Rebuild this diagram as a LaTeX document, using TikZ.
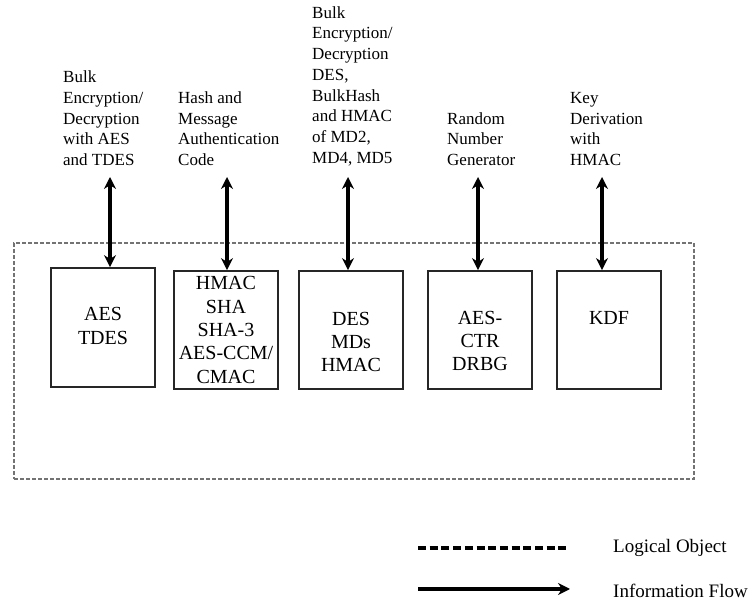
\documentclass[tikz,border=0pt]{standalone}
\usepackage{fontspec}
\setmainfont{Liberation Serif}
\usetikzlibrary{arrows.meta}

\tikzset{
  module/.style={rectangle,draw=black!55,line width=2.4pt,dash pattern=on 4pt off 2pt,
    minimum width=680pt,minimum height=236pt},
  unit/.style={rectangle,draw=black!85,line width=1.8pt,minimum width=104pt,minimum height=118pt},
  unittext/.style={align=center,inner sep=0pt,font=\fontsize{20}{23.3}\selectfont},
  service/.style={align=left,anchor=south west,inner sep=0pt,font=\fontsize{17}{20.7}\selectfont},
  legendtext/.style={anchor=west,inner sep=0pt,font=\fontsize{19}{22}\selectfont},
  flow/.style={{Stealth[length=12pt,width=12pt]}-{Stealth[length=12pt,width=12pt]},line width=3.2pt}
}

\begin{document}
\begin{tikzpicture}[x=1pt,y=1pt]
\useasboundingbox (0,0) rectangle (754,604);
\node at (354,243) [module] (Module) {};
\node at (103,276.5) [unit,minimum height=119pt] (AES) {};
\node at (226,274) [unit] (HMAC) {};
\node at (351,274) [unit] (DES) {};
\node at (480,274) [unit] (DRBG) {};
\node at (609,274) [unit] (KDF) {};
\node at (AES) [unittext,yshift=1.5] (AEStext) {AES\\TDES};
\node at (HMAC) [unittext] (HMACtext) {HMAC\\SHA\\SHA-3\\AES-CCM/\\CMAC};
\node at (DES) [unittext,yshift=-12] (DEStext) {DES\\MDs\\HMAC};
\node at (DRBG) [unittext,yshift=-11] (DRBGtext) {AES-\\CTR\\DRBG};
\node at (KDF) [unittext,yshift=12] (KDFtext) {KDF};
\node at (63,438) [service] (Bulk) {Bulk\\Encryption/\\Decryption\\with AES\\and TDES};
\node at (178,438) [service] (Hash) {Hash and\\Message\\Authentication\\Code};
\node at (312,438) [service] (Legacy) {Bulk\\Encryption/\\Decryption\\DES,\\BulkHash\\and HMAC\\of MD2,\\MD4, MD5};
\node at (447,438) [service] (Random) {Random\\Number\\Generator};
\node at (570,438) [service] (Derive) {Key\\Derivation\\with\\HMAC};
\coordinate (Flow1) at (110,427);
\coordinate (Flow2) at (227,427);
\coordinate (Flow3) at (348,427);
\coordinate (Flow4) at (478,427);
\coordinate (Flow5) at (602,427);
\draw [flow] (Flow1) -- (Flow1 |- AES.north);
\draw [flow] (Flow2) -- (Flow2 |- HMAC.north);
\draw [flow] (Flow3) -- (Flow3 |- DES.north);
\draw [flow] (Flow4) -- (Flow4 |- DRBG.north);
\draw [flow] (Flow5) -- (Flow5 |- KDF.north);
\node at (613,56) [legendtext] (LogObj) {Logical Object};
\node at (613,13) [legendtext] (InfoFlow) {Information Flow};
\coordinate (Dash1) at (418,56);
\coordinate (Dash2) at (570,56);
\coordinate (Arrow1) at (418,15);
\coordinate (Arrow2) at (570,15);
\draw [line width=3.4pt,dash pattern=on 8pt off 3.7pt] (Dash1) -- (Dash2);
\draw [-{Stealth[length=12pt,width=12pt]},line width=3.2pt] (Arrow1) -- (Arrow2);
\end{tikzpicture}
\end{document}
